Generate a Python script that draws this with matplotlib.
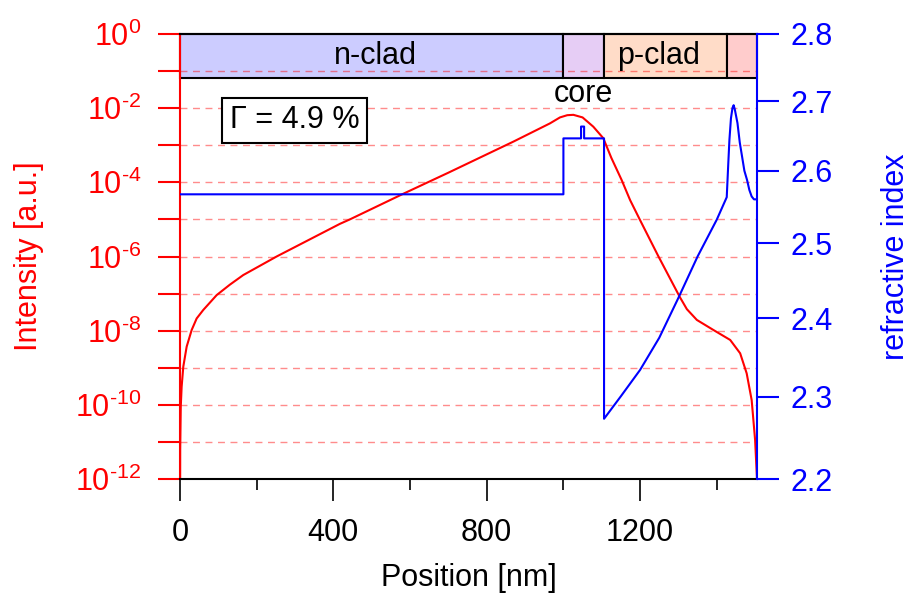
import numpy as np
import matplotlib
matplotlib.use("Agg")
import matplotlib.pyplot as plt
from matplotlib.ticker import FixedLocator, NullLocator, FixedFormatter
from matplotlib.patches import Rectangle

plt.rcParams['font.family'] = ['Liberation Sans', 'DejaVu Sans']
plt.rcParams['mathtext.fontset'] = 'custom'
plt.rcParams['mathtext.rm'] = 'Liberation Sans'
plt.rcParams['mathtext.default'] = 'regular'

# intensity profile (position in nm, log10 of intensity)
intensity_pos = [0, 0.5, 2, 4.3, 8.6, 17.4, 30.5, 43.5, 60.8, 95.7, 130, 165,
                 252, 417, 443, 582, 700, 870, 965, 991, 1010, 1026, 1050,
                 1078, 1104, 1125, 1152, 1174, 1200, 1248, 1304, 1322, 1348,
                 1391, 1435, 1461, 1478, 1491, 1500, 1504.6, 1505]
intensity_log = [-14, -11.2, -10.05, -9.51, -8.97, -8.43, -7.98, -7.67, -7.44,
                 -7.04, -6.76, -6.50, -6.0, -5.12, -5.0, -4.31, -3.74, -2.90,
                 -2.41, -2.25, -2.19, -2.18, -2.25, -2.50, -2.81, -3.34, -3.94,
                 -4.48, -5.02, -6.0, -7.10, -7.42, -7.71, -7.98, -8.25, -8.61,
                 -9.15, -9.87, -10.95, -11.94, -14]

# refractive index profile
index_pos = [0, 1000, 1000, 1046, 1046, 1054, 1054, 1106, 1106, 1150, 1200,
             1250, 1300, 1350, 1400, 1426, 1430, 1433, 1437, 1441, 1444, 1447,
             1454, 1460, 1466, 1472, 1479, 1485, 1491, 1497, 1505]
index_val = [2.567, 2.567, 2.646, 2.646, 2.663, 2.663, 2.646, 2.646, 2.273,
             2.301, 2.334, 2.375, 2.427, 2.482, 2.532, 2.563, 2.610, 2.644,
             2.675, 2.690, 2.694, 2.688, 2.668, 2.640, 2.620, 2.600, 2.587,
             2.573, 2.564, 2.560, 2.560]

# layer bar on top
layer_edges = [0, 1000, 1106, 1427, 1505]
layer_names = ['n-clad', '', 'p-clad', '']
layer_label_x = [511, None, 1247, None]
layer_colors = ['#ccccff', '#e6cdf5', '#ffdcc8', '#ffcccc']

intensity_tick_exp = list(range(0, -13, -1))
index_ticks = [2.2, 2.3, 2.4, 2.5, 2.6, 2.7, 2.8]
x_major = [0, 400, 800, 1200]
x_minor = [200, 600, 1000, 1400]

confinement = 'Γ = 4.9 %'

FS = 22
fig = plt.figure(figsize=(9.1, 5.93), dpi=100)
ax = fig.add_axes([0.1978, 0.1922, 0.6341, 0.7505])
ax2 = ax.twinx()

# intensity side
ax.set_yscale('log')
ax.set_xlim(0, 1505)
ax.set_ylim(1e-12, 1)
for e in intensity_tick_exp[1:-1]:
    ax.axhline(10.0 ** e, color='#ff0000', alpha=0.45, lw=1.0,
               dashes=(5, 4), zorder=1.5)

for i in range(len(layer_names)):
    x0, x1 = layer_edges[i], layer_edges[i + 1]
    r = Rectangle((x0, 0.9), x1 - x0, 0.1, transform=ax.get_xaxis_transform(),
                  facecolor=layer_colors[i], edgecolor='black', lw=1.5,
                  zorder=1, clip_on=False)
    ax.add_patch(r)
    if layer_names[i]:
        ax.text(layer_label_x[i], 0.95, layer_names[i],
                transform=ax.get_xaxis_transform(), ha='center',
                va='center', fontsize=FS, zorder=3)
ax.text(1053, 0.865, 'core', transform=ax.get_xaxis_transform(),
        ha='center', va='center', fontsize=FS, zorder=3)

ax.text(0.1984, 0.806, confinement, transform=ax.transAxes, ha='center',
        va='center', fontsize=FS, zorder=3,
        bbox=dict(boxstyle='square,pad=0.25', facecolor='white',
                  edgecolor='black', lw=1.5))

ax.plot(intensity_pos, 10.0 ** np.array(intensity_log), color='#ff0000',
        lw=1.5, zorder=2)

ax.yaxis.set_major_locator(FixedLocator([10.0 ** e for e in intensity_tick_exp]))
ax.yaxis.set_minor_locator(NullLocator())
ax.yaxis.set_major_formatter(FixedFormatter(
    [r'$10^{\text{%d}}$' % e if e % 2 == 0 else '' for e in intensity_tick_exp]))
ax.tick_params(axis='y', colors='#ff0000', labelcolor='#ff0000', length=16,
               width=1.5, labelsize=FS, pad=12)
ax.set_ylabel('Intensity [a.u.]', color='#ff0000', fontsize=FS, labelpad=22)

ax.xaxis.set_major_locator(FixedLocator(x_major))
ax.xaxis.set_minor_locator(FixedLocator(x_minor))
ax.tick_params(axis='x', which='major', length=16, width=1.2, labelsize=FS,
               pad=12, colors='black')
ax.tick_params(axis='x', which='minor', length=8, width=1.2)
ax.set_xlabel('Position [nm]', fontsize=FS, labelpad=11)

ax.spines['left'].set_color('#ff0000')
ax.spines['left'].set_linewidth(1.5)
ax.spines['bottom'].set_linewidth(1.5)
ax.spines['top'].set_linewidth(1.5)
ax.spines['right'].set_visible(False)

# refractive index side
ax2.set_yscale('log')
ax2.set_ylim(2.2, 2.8)
ax2.plot(index_pos, index_val, color='#0000ff', lw=1.5)
ax2.yaxis.set_major_locator(FixedLocator(index_ticks))
ax2.yaxis.set_minor_locator(NullLocator())
ax2.yaxis.set_major_formatter(FixedFormatter(['%.1f' % v for v in index_ticks]))
ax2.tick_params(axis='y', colors='#0000ff', labelcolor='#0000ff', length=16,
                width=1.5, labelsize=FS, pad=8)
ax2.set_ylabel('refractive index', color='#0000ff', fontsize=FS, labelpad=35)
ax2.spines['right'].set_color('#0000ff')
ax2.spines['right'].set_linewidth(1.5)
for s in ['left', 'top', 'bottom']:
    ax2.spines[s].set_visible(False)

fig.savefig('out.png', dpi=100)
